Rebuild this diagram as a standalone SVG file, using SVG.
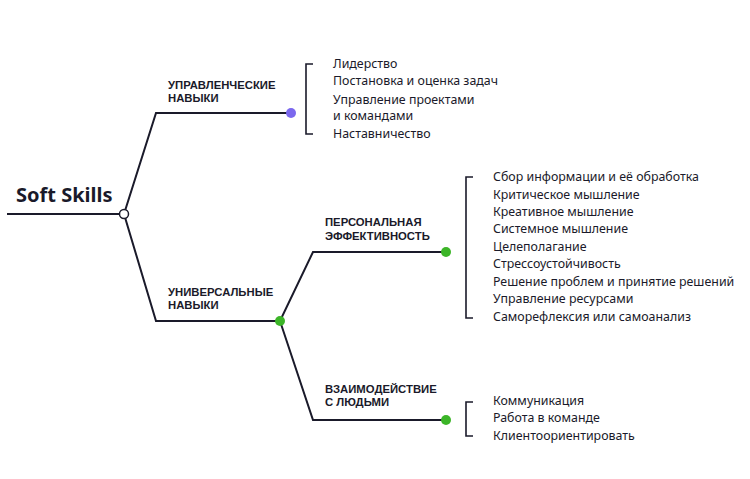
<svg xmlns="http://www.w3.org/2000/svg" width="750" height="479" viewBox="0 0 750 479">
<style>
.ln{fill:none;stroke:#1a1a2a;stroke-width:2}
.br{fill:none;stroke:#1a1a2a;stroke-width:1.6}
.cap{font-family:"Liberation Sans",Arial,sans-serif;font-size:11.3px;font-weight:bold;fill:#1a1a2a}
.it{font-family:"Noto Sans","Liberation Sans",sans-serif;font-size:12.4px;fill:#1a1a2a}
.t{font-family:"Noto Sans","Liberation Sans",sans-serif;font-size:20px;font-weight:bold;fill:#1a1a2a}
</style>
<rect width="750" height="479" fill="#fff"/>
<g id="connectors">
<path class="ln" d="M7 214H124L156 113H291"/>
<path class="ln" d="M124 214L156 321H280L313 252H446"/>
<path class="ln" d="M280 321L313 420H446"/>
<path class="br" d="M313 64H306V134H313"/>
<path class="br" d="M473 177H466V318H473"/>
<path class="br" d="M473 402H466V436H473"/>
</g>
<g id="root"><text class="t" x="16" y="202">Soft Skills</text><circle cx="124" cy="214" r="4.5" fill="#fff" stroke="#1a1a2a" stroke-width="1.5"/></g>
<g id="mgmt"><text class="cap" x="168" y="89">УПРАВЛЕНЧЕСКИЕ</text><text class="cap" x="168" y="102">НАВЫКИ</text><circle cx="291" cy="113" r="5" fill="#7b68ee"/></g>
<g id="univ"><text class="cap" x="168" y="296">УНИВЕРСАЛЬНЫЕ</text><text class="cap" x="168" y="309">НАВЫКИ</text><circle cx="280" cy="321" r="5" fill="#3cb528"/></g>
<g id="pers"><text class="cap" x="325" y="226">ПЕРСОНАЛЬНАЯ</text><text class="cap" x="325" y="240">ЭФФЕКТИВНОСТЬ</text><circle cx="446" cy="252" r="5" fill="#3cb528"/></g>
<g id="inter"><text class="cap" x="325" y="393">ВЗАИМОДЕЙСТВИЕ</text><text class="cap" x="325" y="406">С ЛЮДЬМИ</text><circle cx="446" cy="420" r="5" fill="#3cb528"/></g>
<g id="mgmt-items" class="it">
<text x="333" y="68">Лидерство</text>
<text x="333" y="85">Постановка и оценка задач</text>
<text x="333" y="104">Управление проектами</text>
<text x="333" y="120">и командами</text>
<text x="333" y="138">Наставничество</text>
</g>
<g id="pers-items" class="it">
<text x="493" y="181">Сбор информации и её обработка</text>
<text x="493" y="199">Критическое мышление</text>
<text x="493" y="216">Креативное мышление</text>
<text x="493" y="233">Системное мышление</text>
<text x="493" y="251">Целеполагание</text>
<text x="493" y="268">Стрессоустойчивость</text>
<text x="493" y="286">Решение проблем и принятие решений</text>
<text x="493" y="303">Управление ресурсами</text>
<text x="493" y="321">Саморефлексия или самоанализ</text>
</g>
<g id="inter-items" class="it">
<text x="493" y="405">Коммуникация</text>
<text x="493" y="422">Работа в команде</text>
<text x="493" y="440">Клиентоориентировать</text>
</g>
</svg>
